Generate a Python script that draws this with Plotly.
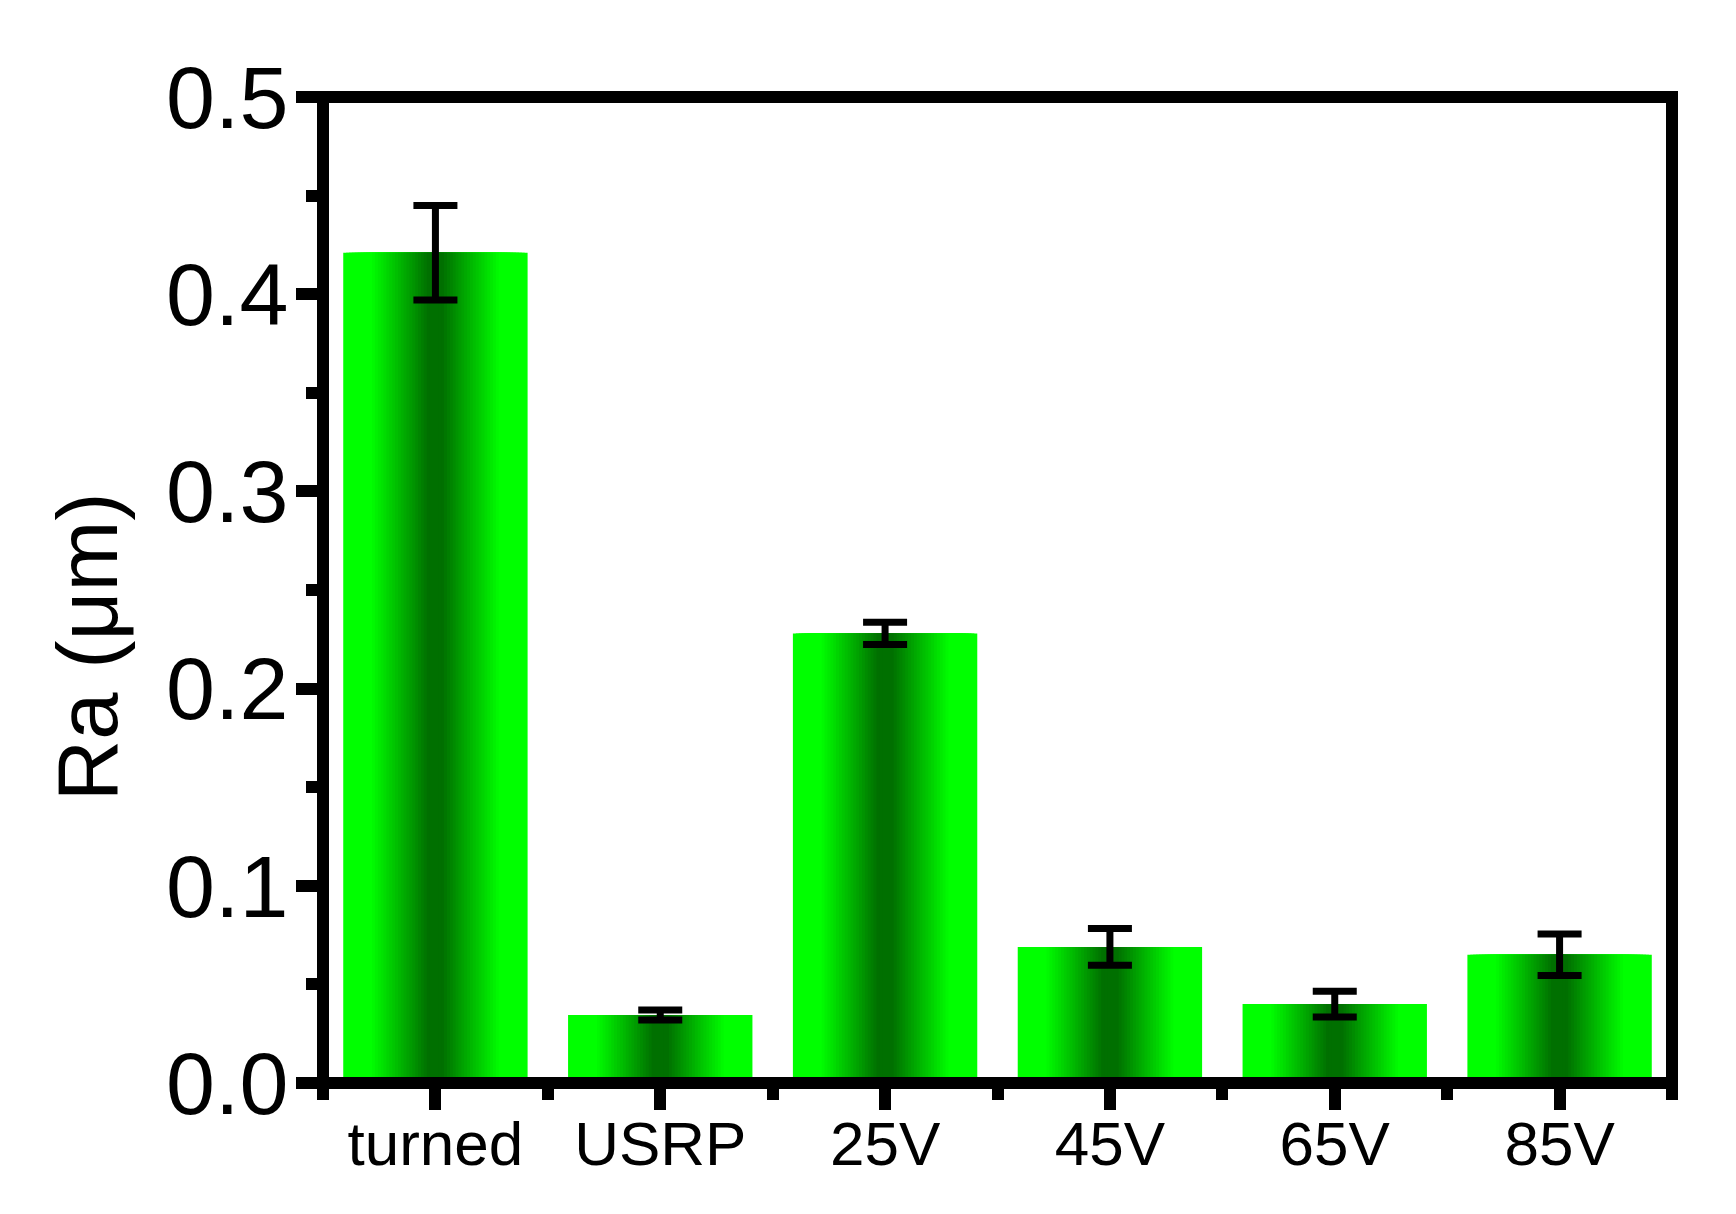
import numpy as np
import plotly.graph_objects as go

# data
categories = ["turned", "USRP", "25V", "45V", "65V", "85V"]
ra_values = [0.421, 0.0345, 0.228, 0.069, 0.040, 0.065]
ra_errors = [0.024, 0.0025, 0.0057, 0.0093, 0.0065, 0.0105]
y_tickvals = [0.0, 0.1, 0.2, 0.3, 0.4, 0.5]
y_ticktext = ["0.0", "0.1", "0.2", "0.3", "0.4", "0.5"]

x_pos = list(range(len(categories)))
bar_width = 0.82
n_steps = 32  # overlaid bars to fake the horizontal gradient
bright = np.array([0, 255, 0])
dark = np.array([0, 112, 0])

fig = go.Figure()
for k in range(n_steps):
    f = 1 - k / n_steps
    fm = f - 0.5 / n_steps
    t = np.clip((fm - 0.08) / 0.62, 0, 1)
    c = dark + (bright - dark) * t
    color = "rgb(%d,%d,%d)" % tuple(np.round(c).astype(int))
    last = k == n_steps - 1
    fig.add_trace(go.Bar(
        x=x_pos, y=ra_values, width=bar_width * f,
        marker=dict(color=color, line=dict(width=0)),
        error_y=dict(type="data", array=ra_errors, color="black",
                     thickness=7, width=22, visible=last),
        showlegend=False, hoverinfo="skip",
    ))

# thick frame round the plot area
fig.add_shape(type="rect", xref="paper", yref="paper", x0=0, x1=1, y0=0, y1=1,
              line=dict(color="black", width=12), layer="above")

fig.add_annotation(
    text="Ra (μm)", textangle=-90, xref="paper", yref="paper",
    x=-0.175, y=0.443, showarrow=False, xanchor="center", yanchor="middle",
    font=dict(size=85, color="black", family="Arial, Liberation Sans"),
)

fig.update_xaxes(
    range=[-0.5, 5.5], tickvals=x_pos, ticktext=categories,
    ticks="outside", ticklen=26, tickwidth=12, tickcolor="black",
    showline=False, showgrid=False, zeroline=False, ticklabelstandoff=-19,
    tickfont=dict(size=62, color="black", family="Arial, Liberation Sans"),
    minor=dict(tickvals=[i - 0.5 for i in range(len(categories) + 1)],
               ticks="outside", ticklen=16, tickwidth=12, tickcolor="black"),
)
fig.update_yaxes(
    range=[0, 0.5], tickvals=y_tickvals, ticktext=y_ticktext,
    ticks="outside", ticklen=26, tickwidth=12, tickcolor="black",
    showline=False, showgrid=False, zeroline=False, ticklabelstandoff=-10,
    tickfont=dict(size=88, color="black", family="Arial, Liberation Sans"),
    minor=dict(tickvals=[0.05, 0.15, 0.25, 0.35, 0.45],
               ticks="outside", ticklen=16, tickwidth=12, tickcolor="black"),
)

fig.update_layout(
    width=1736, height=1214,
    margin=dict(l=315, r=72, t=89, b=139),
    barmode="overlay",
    plot_bgcolor="white", paper_bgcolor="white",
)

fig.write_html("out.html")
